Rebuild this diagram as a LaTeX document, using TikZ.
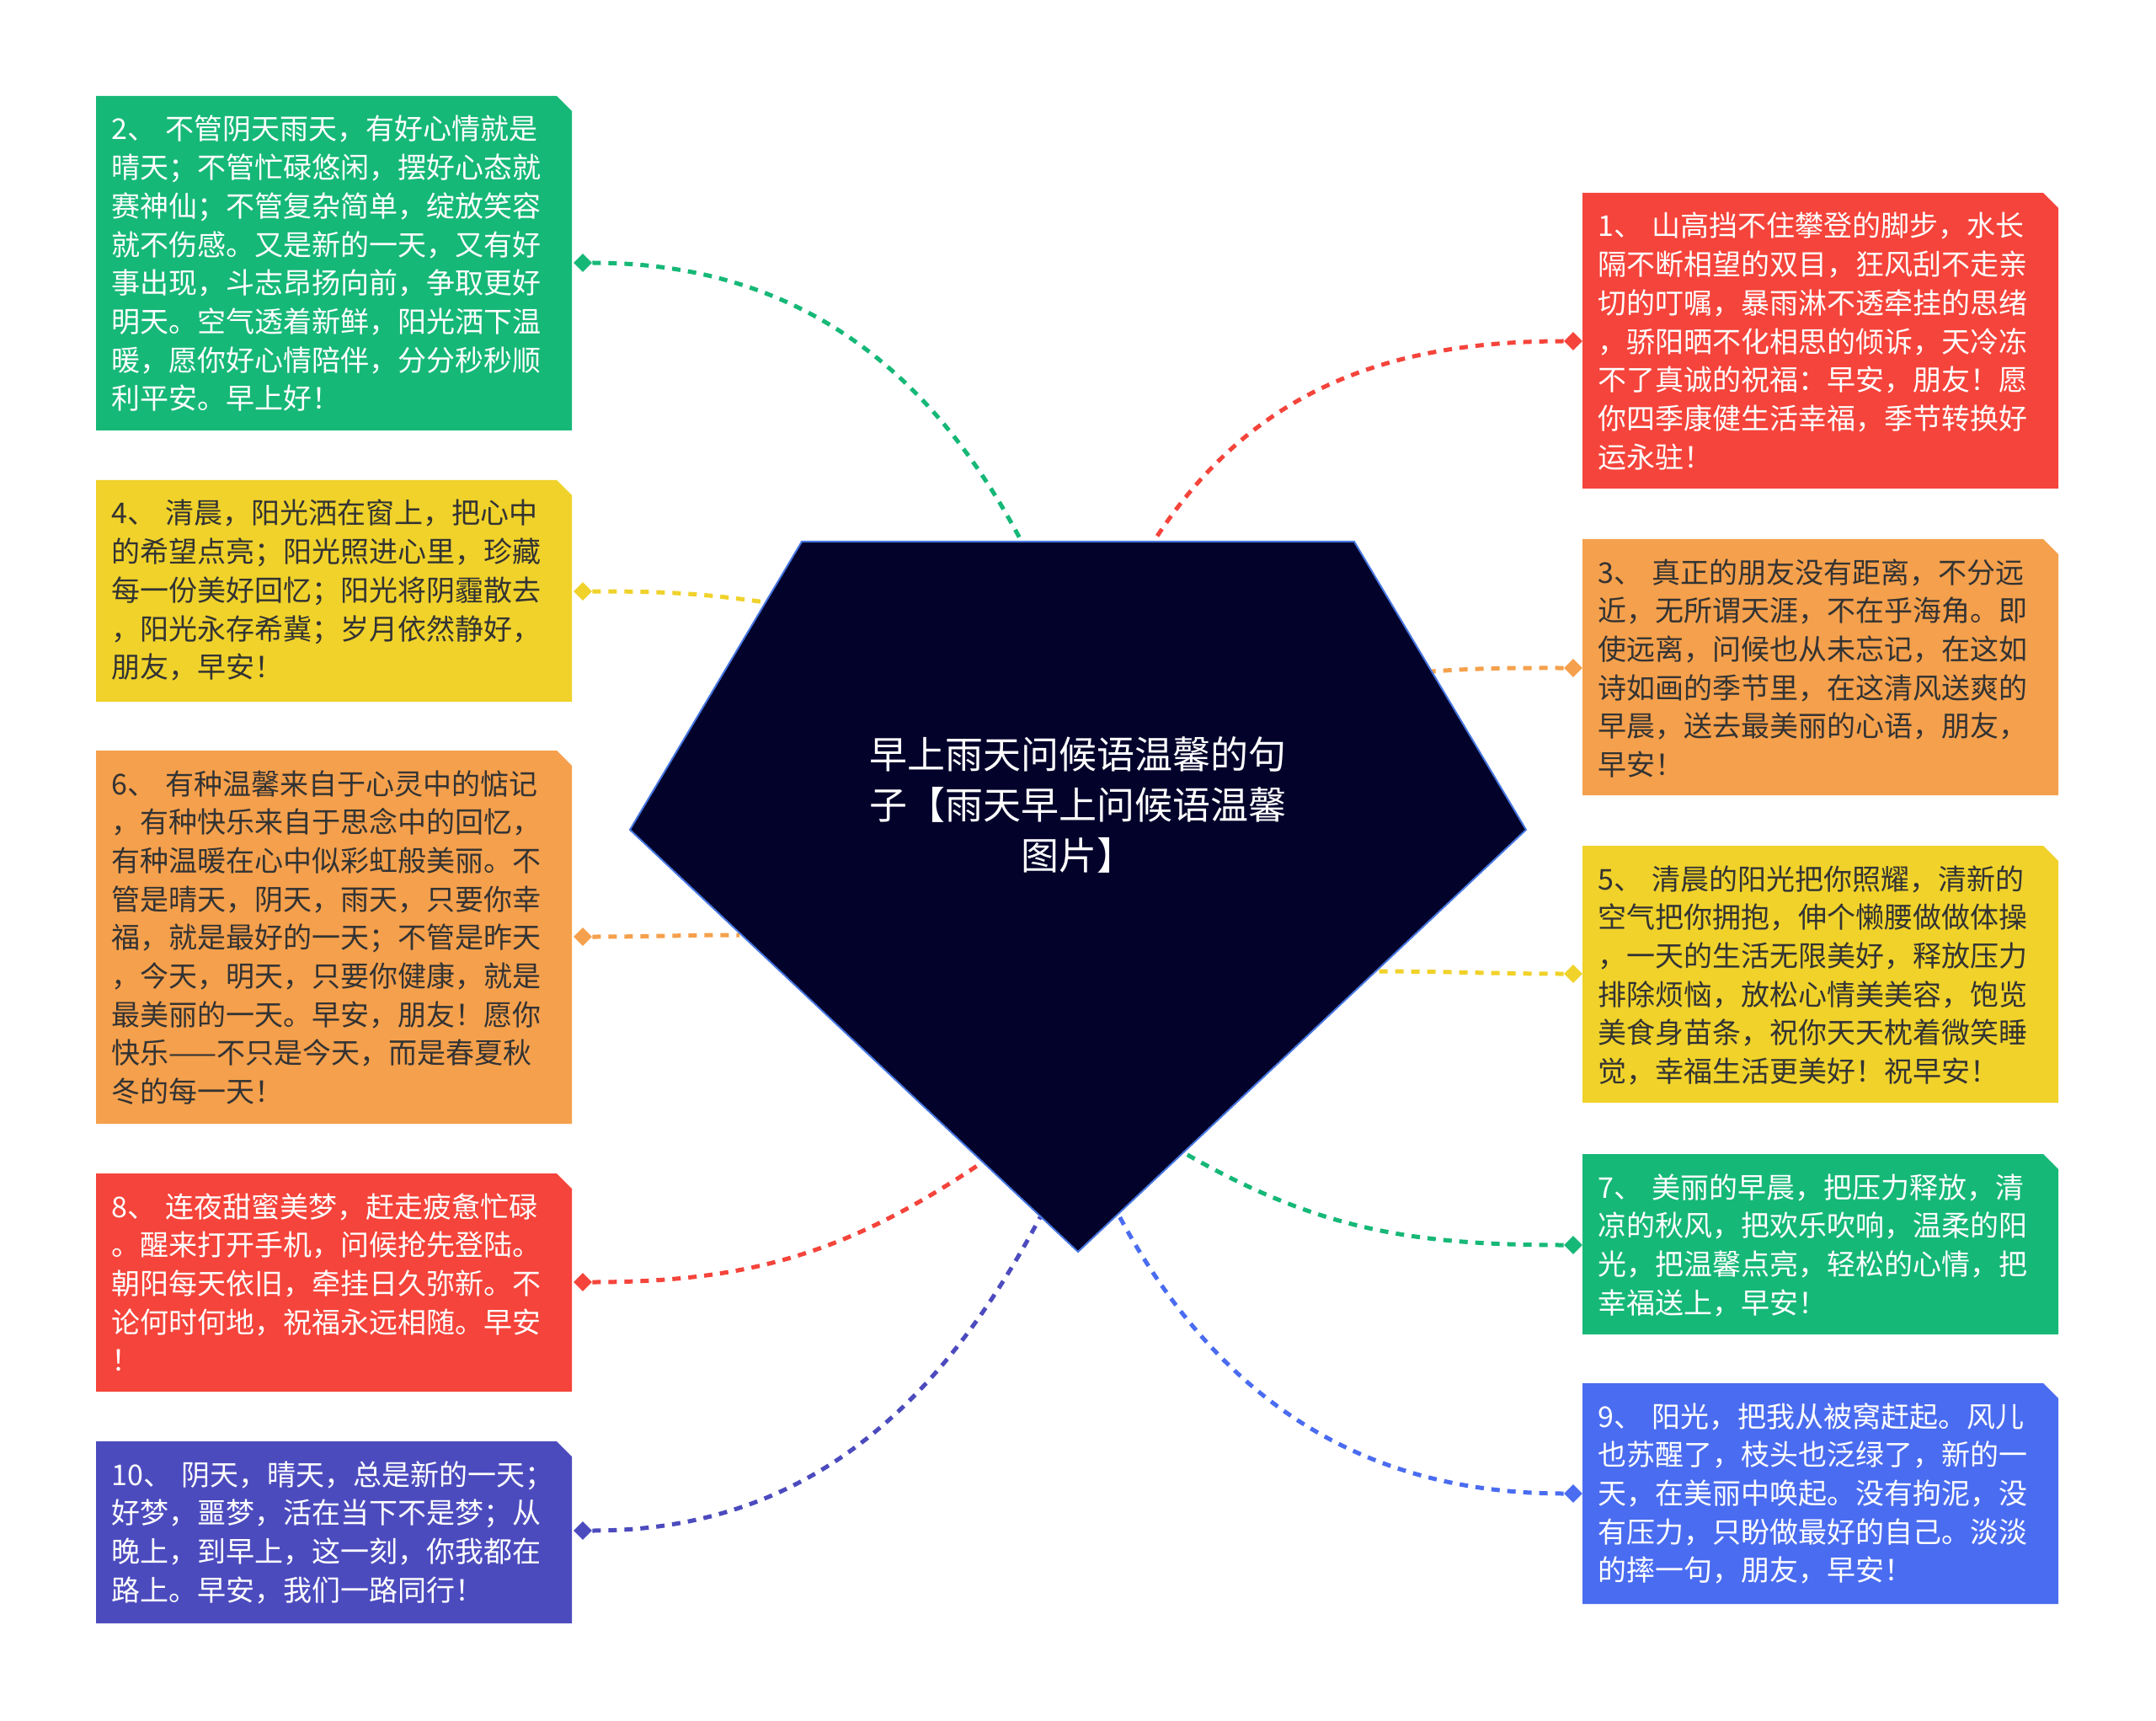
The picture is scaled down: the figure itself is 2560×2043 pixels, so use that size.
\documentclass[tikz,border=0pt]{standalone}
\usepackage{fontspec}
\newfontfamily\cjk{Noto Sans CJK SC}
\usetikzlibrary{shapes.geometric}
\definecolor{cgreen}{RGB}{22,184,119}
\definecolor{cred}{RGB}{245,68,59}
\definecolor{corange}{RGB}{245,160,76}
\definecolor{cyellow}{RGB}{240,210,42}
\definecolor{cindigo}{RGB}{76,75,190}
\definecolor{cblue}{RGB}{74,108,240}
\definecolor{cdark}{RGB}{51,51,51}
\definecolor{cnavy}{RGB}{3,2,43}
\definecolor{cedge}{RGB}{70,118,224}
\tikzset{
  boxtext/.style={anchor=base west, inner sep=0pt, text width=280pt, align=left,
    font=\cjk\fontsize{17pt}{22.85pt}\selectfont},
  tip/.style={diamond, shape aspect=1, inner sep=0pt, minimum width=11pt, minimum height=11pt},
  link/.style={line width=2.5pt, dash pattern=on 5pt off 4.5pt},
  titletext/.style={inner sep=0pt, text width=300pt, align=center, text=white,
    font=\cjk\fontsize{22.5pt}{30pt}\selectfont}
}
\newcommand{\tipbox}[8]{%
  \fill[#6] (#2,#3) -- ({#4-18},#3) -- (#4,{#3+18}) -- (#4,#5) -- (#2,#5) -- cycle;
  \node[boxtext, text=#7] (#1) at ({#2+18},{#3+52}) {#8};
}
\begin{document}
\begin{tikzpicture}[x=0.5pt,y=-0.5pt]
\useasboundingbox (0,0) rectangle (2560,2043);
\fill[white] (0,0) rectangle (2560,2043);

% left column
\tipbox{b2}{114}{114}{679}{511}{cgreen}{white}{2、 不管阴天雨天，有好心情就是\\晴天；不管忙碌悠闲，摆好心态就\\赛神仙；不管复杂简单，绽放笑容\\就不伤感。又是新的一天，又有好\\事出现，斗志昂扬向前，争取更好\\明天。空气透着新鲜，阳光洒下温\\暖，愿你好心情陪伴，分分秒秒顺\\利平安。早上好！}
\tipbox{b4}{114}{570}{679}{833}{cyellow}{cdark}{4、 清晨，阳光洒在窗上，把心中\\的希望点亮；阳光照进心里，珍藏\\每一份美好回忆；阳光将阴霾散去\\，阳光永存希冀；岁月依然静好，\\朋友，早安！}
\tipbox{b6}{114}{891}{679}{1334}{corange}{cdark}{6、 有种温馨来自于心灵中的惦记\\，有种快乐来自于思念中的回忆，\\有种温暖在心中似彩虹般美丽。不\\管是晴天，阴天，雨天，只要你幸\\福，就是最好的一天；不管是昨天\\，今天，明天，只要你健康，就是\\最美丽的一天。早安，朋友！愿你\\快乐——不只是今天，而是春夏秋\\冬的每一天！}
\tipbox{b8}{114}{1393}{679}{1652}{cred}{white}{8、 连夜甜蜜美梦，赶走疲惫忙碌\\。醒来打开手机，问候抢先登陆。\\朝阳每天依旧，牵挂日久弥新。不\\论何时何地，祝福永远相随。早安\\！}
\tipbox{b10}{114}{1711}{679}{1927}{cindigo}{white}{10、 阴天，晴天，总是新的一天；\\好梦，噩梦，活在当下不是梦；从\\晚上，到早上，这一刻，你我都在\\路上。早安，我们一路同行！}

% right column
\tipbox{b1}{1879}{229}{2444}{580}{cred}{white}{1、 山高挡不住攀登的脚步，水长\\隔不断相望的双目，狂风刮不走亲\\切的叮嘱，暴雨淋不透牵挂的思绪\\，骄阳晒不化相思的倾诉，天冷冻\\不了真诚的祝福：早安，朋友！愿\\你四季康健生活幸福，季节转换好\\运永驻！}
\tipbox{b3}{1879}{640}{2444}{944}{corange}{cdark}{3、 真正的朋友没有距离，不分远\\近，无所谓天涯，不在乎海角。即\\使远离，问候也从未忘记，在这如\\诗如画的季节里，在这清风送爽的\\早晨，送去最美丽的心语，朋友，\\早安！}
\tipbox{b5}{1879}{1004}{2444}{1309}{cyellow}{cdark}{5、 清晨的阳光把你照耀，清新的\\空气把你拥抱，伸个懒腰做做体操\\，一天的生活无限美好，释放压力\\排除烦恼，放松心情美美容，饱览\\美食身苗条，祝你天天枕着微笑睡\\觉，幸福生活更美好！祝早安！}
\tipbox{b7}{1879}{1370}{2444}{1584}{cgreen}{white}{7、 美丽的早晨，把压力释放，清\\凉的秋风，把欢乐吹响，温柔的阳\\光，把温馨点亮，轻松的心情，把\\幸福送上，早安！}
\tipbox{b9}{1879}{1642}{2444}{1904}{cblue}{white}{9、 阳光，把我从被窝赶起。风儿\\也苏醒了，枝头也泛绿了，新的一\\天，在美丽中唤起。没有拘泥，没\\有压力，只盼做最好的自己。淡淡\\的摔一句，朋友，早安！}

% diamonds
\node[tip, fill=cgreen]  (d2)  at (692,312)  {};
\node[tip, fill=cyellow] (d4)  at (692,702)  {};
\node[tip, fill=corange] (d6)  at (692,1112) {};
\node[tip, fill=cred]    (d8)  at (692,1522) {};
\node[tip, fill=cindigo] (d10) at (692,1817) {};
\node[tip, fill=cred]    (d1)  at (1868,405) {};
\node[tip, fill=corange] (d3)  at (1868,793) {};
\node[tip, fill=cyellow] (d5)  at (1868,1156) {};
\node[tip, fill=cgreen]  (d7)  at (1868,1478) {};
\node[tip, fill=cblue]   (d9)  at (1868,1773) {};

% connector ends on the centre shape
\coordinate (c2)  at (1212,641);
\coordinate (c1)  at (1371,641);
\coordinate (c4)  at (909,715);
\coordinate (c3)  at (1700,797);
\coordinate (c6)  at (878,1110);
\coordinate (c5)  at (1633,1153);
\coordinate (c8)  at (1166,1380);
\coordinate (c7)  at (1405,1368);
\coordinate (c10) at (1235,1445);
\coordinate (c9)  at (1327,1440);

% connectors
\draw[link, cgreen]  (d2.east)  to[out=0,in=118]   (c2);
\draw[link, cyellow] (d4.east)  to[out=0,in=172]   (c4);
\draw[link, corange] (d6.east)  to[out=0,in=180]   (c6);
\draw[link, cred]    (d8.east)  to[out=0,in=214]   (c8);
\draw[link, cindigo] (d10.east) to[out=0,in=242]   (c10);
\draw[link, cred]    (d1.west)  to[out=180,in=57]  (c1);
\draw[link, corange] (d3.west)  to[out=180,in=4]   (c3);
\draw[link, cyellow] (d5.west)  to[out=180,in=0]   (c5);
\draw[link, cgreen]  (d7.west)  to[out=180,in=-30] (c7);
\draw[link, cblue]   (d9.west)  to[out=180,in=-62] (c9);

% centre shape
\coordinate (p1) at (952,643);
\coordinate (p2) at (1608,643);
\coordinate (p3) at (1812,985);
\coordinate (p4) at (1280,1486);
\coordinate (p5) at (748,985);
\filldraw[fill=cnavy, draw=cedge, line width=1pt] (p1) -- (p2) -- (p3) -- (p4) -- (p5) -- cycle;
\node[titletext, anchor=base] (title) at (1280,912) {早上雨天问候语温馨的句\\子【雨天早上问候语温馨\\图片】};
\end{tikzpicture}
\end{document}
